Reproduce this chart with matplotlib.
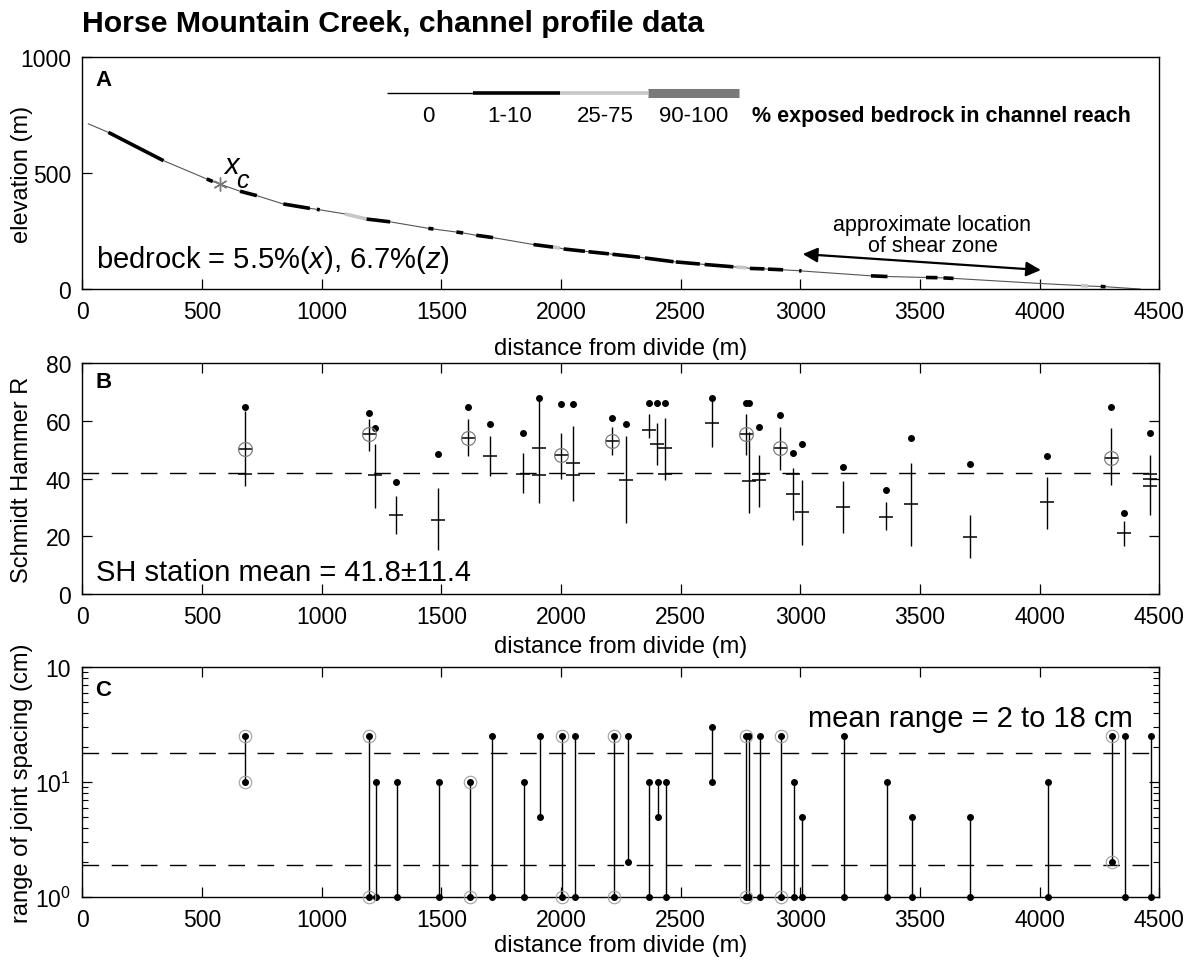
import numpy as np
import matplotlib
matplotlib.use("Agg")
from matplotlib import pyplot as plt
from matplotlib.ticker import FixedLocator, FixedFormatter, LogLocator, NullFormatter

plt.rcParams['font.family'] = ['Liberation Sans', 'DejaVu Sans']
plt.rcParams['mathtext.fontset'] = 'custom'
plt.rcParams['mathtext.rm'] = 'Liberation Sans'
plt.rcParams['mathtext.it'] = 'Liberation Sans:italic'

# ---- panel A: long profile, breakpoints along the channel (m) ----
prof_x = [25, 109, 339, 520, 545, 575, 659, 729, 840, 951, 980, 992, 1098, 1188,
          1286, 1446, 1467, 1563, 1591, 1646, 1716, 1885, 1967, 1995, 2011, 2100,
          2115, 2200, 2215, 2330, 2351, 2470, 2480, 2580, 2600, 2720, 2733, 2775,
          2789, 2850, 2865, 2928, 2995, 3005, 3295, 3364, 3525, 3573, 3598, 3640,
          4000, 4172, 4202, 4255, 4275, 4420]
prof_z = [713, 676, 554, 475, 464, 453, 422, 403, 367, 348, 344, 342, 324, 302,
          290, 262, 259, 246, 242, 232, 222, 192, 181, 177, 173, 163,
          161, 152, 150, 137, 134, 118, 117, 108, 106, 96, 95, 92,
          89, 87, 86, 83, 79, 78, 57, 54, 50, 49, 48, 46,
          24, 15, 13, 11, 10, 0]
# exposure class of each reach between breakpoints: 0 none, 1 = 1-10 %, 2 = 25-75 %
reach_class = [0, 1, 0, 1, 0, 0, 1, 0, 1, 0, 1, 0, 2, 1,
               0, 1, 0, 1, 0, 1, 0, 1, 2, 0, 1, 0,
               1, 0, 1, 0, 1, 0, 1, 0, 1, 0, 2, 0,
               1, 0, 1, 0, 1, 0, 1, 0, 1, 0, 1, 0,
               0, 2, 0, 1, 0]
xc_dist, xc_elev = 575, 453
legend_labels = ['0', '1-10', '25-75', '90-100']

# ---- panel B: Schmidt hammer stations ----
sh_bar_x = [680, 1197, 1224, 1312, 1488, 1612, 1704, 1840, 1906, 2000, 2052, 2213,
            2270, 2366, 2400, 2433, 2630, 2775, 2785, 2828, 2913, 2970, 3007, 3179,
            3358, 3463, 3709, 4030, 4298, 4351, 4460]
sh_bar_lo = [37.3, 49.5, 29.8, 20.9, 15.1, 47.8, 40.8, 35.0, 31.5, 39.7, 32.1, 48.0,
             24.7, 53.9, 44.7, 39.5, 51.0, 48.0, 28.0, 30.3, 43.0, 25.7, 16.9, 21.1,
             22.0, 16.6, 12.3, 22.6, 37.6, 16.6, 27.2]
sh_bar_hi = [63.4, 60.5, 51.8, 33.9, 36.6, 60.5, 54.7, 48.7, 67.8, 55.9, 58.2, 58.0,
             54.8, 62.5, 59.1, 60.8, 67.1, 62.5, 56.0, 48.2, 57.9, 43.6, 39.5, 39.0,
             31.7, 45.3, 27.2, 40.5, 57.4, 25.4, 48.3]
sh_max = [64.9, 62.8, 57.6, 38.7, 48.6, 64.8, 58.8, 55.7, 67.8, 65.7, 65.7, 60.8,
          59.0, 66.0, 66.0, 66.0, 68.0, 66.0, 66.0, 57.9, 62.0, 49.0, 52.0, 43.9,
          35.9, 53.9, 44.9, 47.8, 64.8, 28.0, 55.9]
sh_mean_x = [680, 680, 1197, 1224, 1312, 1488, 1612, 1704, 1840, 1906, 1906, 2000,
             2052, 2052, 2213, 2270, 2366, 2400, 2433, 2433, 2630, 2775, 2785, 2828,
             2828, 2913, 2970, 2970, 3007, 3179, 3358, 3463, 3709, 4030, 4298, 4351,
             4460, 4460, 4460]
sh_mean = [50.3, 41.7, 55.3, 41.3, 27.5, 25.7, 54.1, 47.8, 41.7, 50.7, 41.3, 48.0,
           45.4, 41.3, 53.0, 39.6, 56.8, 51.8, 50.5, 41.7, 59.1, 55.3, 39.2, 41.7,
           39.5, 50.5, 41.7, 34.7, 28.4, 30.1, 26.7, 31.1, 19.8, 31.8, 47.2, 21.1,
           41.7, 39.9, 37.5]
sh_circ_x = [680, 1197, 1612, 2000, 2213, 2775, 2913, 4298]
sh_circ = [50.3, 55.3, 54.1, 48.0, 53.0, 55.3, 50.5, 47.2]
sh_station_mean = 41.8

# ---- panel C: joint spacing range (cm) ----
js_x = [680, 1199, 1229, 1316, 1492, 1621, 1712, 1847, 1912, 2004, 2057, 2221,
        2278, 2369, 2406, 2437, 2630, 2775, 2785, 2831, 2918, 2973, 3007, 3182,
        3361, 3466, 3709, 4033, 4301, 4355, 4463]
js_lo = [10, 1, 1, 1, 1, 1, 1, 1, 5, 1, 1, 1,
         2, 1, 5, 1, 10, 1, 1, 1, 1, 1, 1, 1,
         1, 1, 1, 1, 2, 1, 1]
js_hi = [25, 25, 10, 10, 10, 10, 25, 10, 25, 25, 25, 25,
         25, 10, 10, 10, 30, 25, 25, 25, 25, 10, 5, 25,
         10, 5, 5, 10, 25, 25, 25]
js_circled = [680, 1199, 1621, 2004, 2221, 2775, 2918, 4301]
js_mean_lo, js_mean_hi = 1.9, 18

xticks = [0, 500, 1000, 1500, 2000, 2500, 3000, 3500, 4000, 4500]

fig = plt.figure(figsize=(11.93, 9.62), dpi=100)
axA = fig.add_axes([0.069, 0.6985, 0.9028, 0.2409])
axB = fig.add_axes([0.069, 0.3815, 0.9028, 0.2401])
axC = fig.add_axes([0.069, 0.0665, 0.9028, 0.239])

fig.text(0.069, 0.967, 'Horse Mountain Creek, channel profile data',
         fontsize=21.8, fontweight='bold', va='baseline', ha='left')

for ax, lpad in ((axA, 10), (axB, 5), (axC, 2)):
    ax.set_xlim(0, 4500)
    ax.set_xticks(xticks)
    ax.tick_params(direction='in', length=7.5, width=0.9, labelsize=16.5, pad=8)
    ax.tick_params(which='minor', direction='in', length=4, width=0.8)
    for s in ax.spines.values():
        s.set_linewidth(1.0)
    ax.set_xlabel('distance from divide (m)', fontsize=17, labelpad=lpad)

# ---- A ----
axA.set_ylim(0, 1000)
axA.set_yticks([0, 500, 1000])
axA.set_ylabel('elevation (m)', fontsize=17)
axA.plot(prof_x, prof_z, color='#555555', lw=0.8, zorder=2)
seg_style = {1: dict(color='black', lw=2.6), 2: dict(color='#c6c6c6', lw=2.6)}
for i, c in enumerate(reach_class):
    if c == 0:
        continue
    axA.plot(prof_x[i:i + 2], prof_z[i:i + 2], solid_capstyle='butt', zorder=3, **seg_style[c])
axA.plot([xc_dist], [xc_elev], marker=(6, 2, 0), ms=10, color='#7a7a7a', mew=1.0, zorder=4)
axA.text(623, 537, 'x', fontsize=21, style='italic', ha='center', va='center')
axA.text(671, 472, 'c', fontsize=18, style='italic', ha='center', va='center')

# legend bar for bedrock exposure
lx = [0.2826, 0.3630, 0.4436, 0.5256, 0.6100]
ly = 0.846
axA.plot(lx[0:2], [ly, ly], transform=axA.transAxes, color='black', lw=1.0, solid_capstyle='butt')
axA.plot(lx[1:3], [ly, ly], transform=axA.transAxes, color='black', lw=2.6, solid_capstyle='butt')
axA.plot(lx[2:4], [ly, ly], transform=axA.transAxes, color='#c6c6c6', lw=2.6, solid_capstyle='butt')
axA.plot(lx[3:5], [ly, ly], transform=axA.transAxes, color='#7a7a7a', lw=6.5, solid_capstyle='butt')
for xpos, lab in zip([0.3213, 0.397, 0.4854, 0.568], legend_labels):
    axA.text(xpos, 0.748, lab, transform=axA.transAxes, fontsize=16, ha='center', va='center')
axA.text(0.6215, 0.748, '% exposed bedrock in channel reach', transform=axA.transAxes,
         fontsize=15.5, fontweight='bold', ha='left', va='center')

axA.annotate('', xy=(3010, 151), xytext=(4005, 82),
             arrowprops=dict(arrowstyle='<|-|>', color='black', lw=1.6,
                             mutation_scale=22, shrinkA=0, shrinkB=0))
axA.text(3549, 277, 'approximate location', fontsize=15.5, ha='center', va='center')
axA.text(3555, 187, 'of shear zone', fontsize=15.5, ha='center', va='center')
axA.text(0.013, 0.13, r'bedrock = 5.5%($\mathit{x}$), 6.7%($\mathit{z}$)', transform=axA.transAxes,
         fontsize=21, ha='left', va='center')
axA.text(0.012, 0.904, 'A', transform=axA.transAxes, fontsize=16, fontweight='bold',
         ha='left', va='center')

# ---- B ----
axB.set_ylim(0, 80)
axB.set_yticks([0, 20, 40, 60, 80])
axB.tick_params(top=True, right=True)
axB.set_ylabel('Schmidt Hammer R', fontsize=17)
axB.axhline(sh_station_mean, color='black', lw=1.0, dashes=(12, 9), zorder=1)
axB.vlines(sh_bar_x, sh_bar_lo, sh_bar_hi, color='black', lw=1.0, zorder=2)
axB.plot(sh_mean_x, sh_mean, ls='none', marker='_', ms=10, mew=1.1, color='black', zorder=3)
axB.plot(sh_bar_x, sh_max, ls='none', marker='o', ms=4, color='black', zorder=3)
axB.plot(sh_circ_x, sh_circ, ls='none', marker='o', ms=10, mfc='none', mec='#808080',
         mew=0.9, zorder=3)
axB.text(0.013, 0.095, 'SH station mean = 41.8\u00b111.4', transform=axB.transAxes,
         fontsize=21, ha='left', va='center')
axB.text(0.012, 0.92, 'B', transform=axB.transAxes, fontsize=16, fontweight='bold',
         ha='left', va='center')

# ---- C ----
axC.set_yscale('log')
axC.set_ylim(1, 100)
axC.yaxis.set_major_locator(FixedLocator([1, 10, 100]))
axC.yaxis.set_major_formatter(FixedFormatter([r'$10^0$', r'$10^1$', '10']))
axC.yaxis.set_minor_locator(LogLocator(base=10, subs=np.arange(2, 10)))
axC.yaxis.set_minor_formatter(NullFormatter())
axC.tick_params(which='both', top=True, right=True)
axC.set_ylabel('range of joint spacing (cm)', fontsize=17)
for yv in (js_mean_hi, js_mean_lo):
    axC.axhline(yv, color='black', lw=1.0, dashes=(12, 9), zorder=1)
axC.vlines(js_x, js_lo, js_hi, color='black', lw=1.0, zorder=2)
axC.plot(js_x, js_hi, ls='none', marker='o', ms=4, color='black', zorder=3, clip_on=False)
axC.plot(js_x, js_lo, ls='none', marker='o', ms=4, color='black', zorder=3, clip_on=False)
circ_lo = [lo for x, lo in zip(js_x, js_lo) if x in js_circled]
circ_hi = [hi for x, hi in zip(js_x, js_hi) if x in js_circled]
axC.plot(js_circled, circ_hi, ls='none', marker='o', ms=9, mfc='none', mec='#a0a0a0',
         mew=0.8, zorder=3, clip_on=False)
axC.plot(js_circled, circ_lo, ls='none', marker='o', ms=9, mfc='none', mec='#a0a0a0',
         mew=0.8, zorder=3, clip_on=False)
axC.text(0.975, 0.78, 'mean range = 2 to 18 cm', transform=axC.transAxes,
         fontsize=21, ha='right', va='center')
axC.text(0.012, 0.902, 'C', transform=axC.transAxes, fontsize=16, fontweight='bold',
         ha='left', va='center')

for ax in (axA, axB, axC):
    ax.yaxis.set_label_coords(-0.046, 0.5)

fig.savefig('out.png', dpi=100)
